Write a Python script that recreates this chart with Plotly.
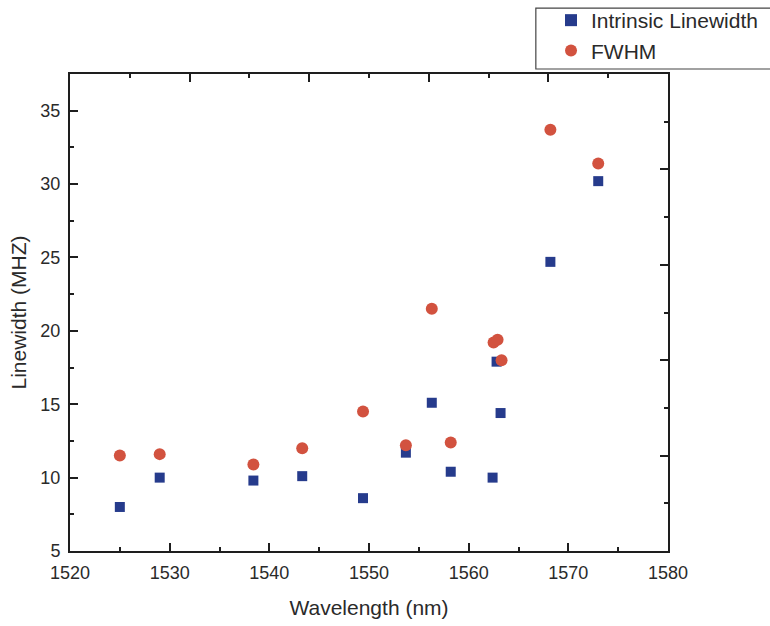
import plotly.graph_objects as go

# Wavelength (nm) for each measured laser line
wavelength = [1525.0, 1529.0, 1538.4, 1543.3, 1549.4, 1553.7, 1556.3,
              1558.2, 1562.4, 1562.8, 1563.2, 1568.2, 1573.0]
intrinsic = [8.0, 10.0, 9.8, 10.1, 8.6, 11.7, 15.1,
             10.4, 10.0, 17.9, 14.4, 24.7, 30.2]

wavelength_fwhm = [1525.0, 1529.0, 1538.4, 1543.3, 1549.4, 1553.7, 1556.3,
                   1558.2, 1562.5, 1562.9, 1563.3, 1568.2, 1573.0]
fwhm = [11.5, 11.6, 10.9, 12.0, 14.5, 12.2, 21.5,
        12.4, 19.2, 19.4, 18.0, 33.7, 31.4]

BLUE = "#263b8c"
RED = "#d2523f"
INK = "#1e1e1e"
FONT = "Liberation Sans, Arial, sans-serif"

fig = go.Figure()
fig.add_trace(go.Scatter(
    x=wavelength, y=intrinsic, mode="markers", name="Intrinsic Linewidth",
    marker=dict(symbol="square", size=10, color=BLUE, line=dict(width=0)),
))
fig.add_trace(go.Scatter(
    x=wavelength_fwhm, y=fwhm, mode="markers", name="FWHM",
    marker=dict(symbol="circle", size=12, color=RED, line=dict(width=0)),
))
# empty trace so the top/right frame axes get drawn
fig.add_trace(go.Scatter(x=[], y=[], xaxis="x2", yaxis="y2",
                         showlegend=False, hoverinfo="skip"))

frame = dict(showline=True, linewidth=2, linecolor=INK, ticks="inside",
             tickcolor=INK, tickwidth=1.5, ticklen=8, showgrid=False,
             zeroline=False)
minor_ticks = dict(ticks="inside", ticklen=4, tickcolor=INK, tickwidth=1.5)

fig.update_layout(
    width=770, height=626,
    margin=dict(l=70, r=102, t=74, b=75, autoexpand=False),
    paper_bgcolor="white", plot_bgcolor="white",
    font=dict(family=FONT, color="#2a2a2a", size=18),
    xaxis=dict(range=[1520, 1580], dtick=10, tick0=1520,
               minor=dict(dtick=5, **minor_ticks),
               title=dict(text="Wavelength (nm)", font=dict(size=21), standoff=19),
               tickfont=dict(size=18), ticklabelstandoff=4, **frame),
    yaxis=dict(range=[5, 37.5], dtick=5, tick0=5,
               minor=dict(dtick=2.5, **minor_ticks),
               title=dict(text="Linewidth (MHZ)", font=dict(size=21), standoff=8),
               tickfont=dict(size=18), ticklabelstandoff=4, **frame),
    xaxis2=dict(overlaying="x", side="top", range=[0, 10], dtick=2,
                showticklabels=False, minor=dict(dtick=1, **minor_ticks),
                **frame),
    yaxis2=dict(overlaying="y", side="right", range=[0, 10], dtick=2,
                showticklabels=False, minor=dict(dtick=1, **minor_ticks),
                **frame),
    legend=dict(x=0.7156, y=1.0, xref="container", yref="container",
                xanchor="left", yanchor="top",
                bgcolor="rgba(0,0,0,0)", borderwidth=0,
                font=dict(size=21, color="#2a2a2a"),
                itemsizing="constant", tracegroupgap=0),
    showlegend=True,
    shapes=[dict(type="rect", xref="paper", yref="paper",
                 x0=0.779, x1=1.19, y0=1.0105, y1=1.138,
                 line=dict(color="#444", width=1.2), fillcolor="white",
                 layer="below")],
)

fig.write_html("out.html")
